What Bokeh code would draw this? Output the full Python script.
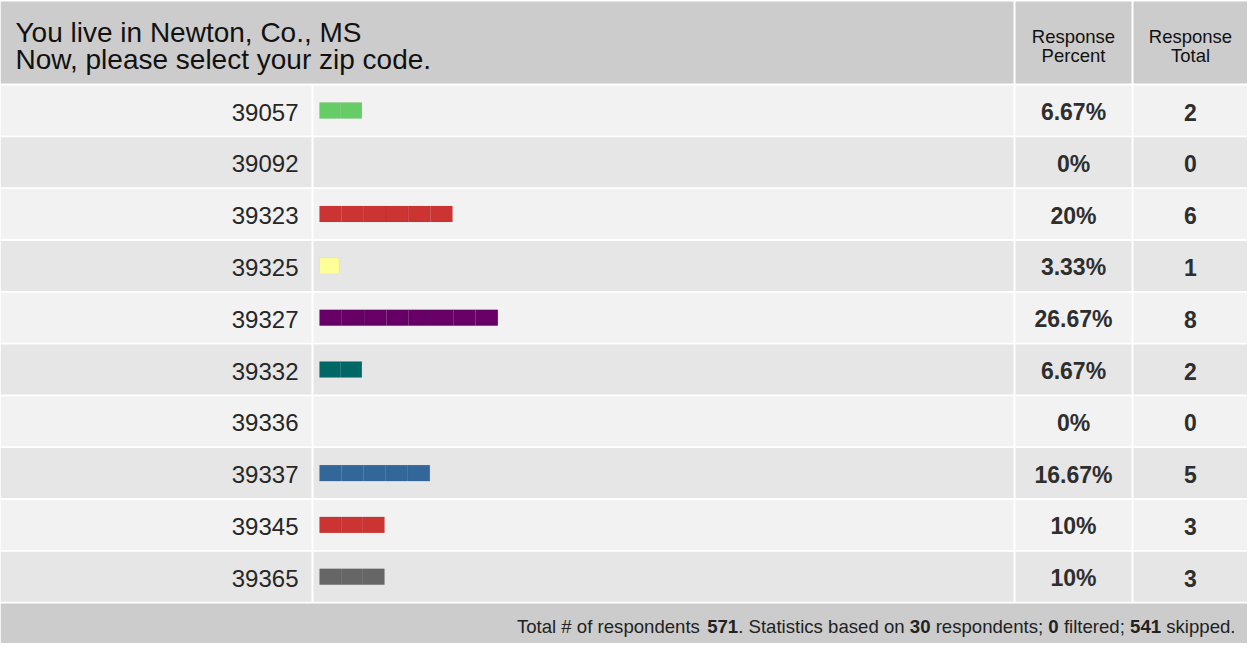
from bokeh.plotting import figure
from bokeh.models import Range1d
from bokeh.core.properties import value
from bokeh.embed import file_html
from bokeh.resources import INLINE

# ---- data ----
zips = ["39057", "39092", "39323", "39325", "39327", "39332", "39336", "39337", "39345", "39365"]
percents = [6.67, 0, 20, 3.33, 26.67, 6.67, 0, 16.67, 10, 10]
percent_labels = ["6.67%", "0%", "20%", "3.33%", "26.67%", "6.67%", "0%", "16.67%", "10%", "10%"]
totals = [2, 0, 6, 1, 8, 2, 0, 5, 3, 3]
bar_colors = ["#66cc66", "#cc3333", "#cc3333", "#ffff99", "#660066", "#006666", "#cc3333", "#336699", "#cc3333", "#666666"]
title_lines = ["You live in Newton, Co., MS", "Now, please select your zip code."]
col_headers = [["Response", "Percent"], ["Response", "Total"]]
footer_parts = ["Total # of respondents ", "571", ". Statistics based on ", "30", " respondents; ", "0",
                " filtered; ", "541", " skipped."]
footer_bold = [False, True, False, True, False, True, False, True, False]

# ---- layout (pixel-like coordinates) ----
W, H = 1247, 643
HEADER_TOP, HEADER_BOTTOM = 1, 83
ROW0_TOP, ROW_PITCH, ROW_H = 85, 51.8, 50
FOOTER_TOP = 603
LABEL_X0, LABEL_X1 = 0, 311
BAR_X0, BAR_X1 = 313, 1013
PCT_X0, PCT_X1 = 1015, 1131
TOT_X0, TOT_X1 = 1133, W
BAR_START = 319
PX_PER_PCT = 6.8
BAR_H = 16
FONT = "Liberation Sans"
FOOT_SIZE = 18.6
FOOT_RIGHT = 1235

# Arial / Liberation Sans advance widths (1/1000 em) for footer characters
ADV = {" ": 278, "#": 556, ".": 278, ";": 278, "T": 611, "S": 667,
       "a": 556, "b": 556, "c": 500, "d": 556, "e": 556, "f": 278, "i": 222, "k": 500,
       "l": 222, "n": 556, "o": 556, "p": 556, "r": 333, "s": 500, "t": 278}
for dch in "0123456789":
    ADV[dch] = 556


def text_w(s):
    return sum(ADV.get(ch, 556) for ch in s) / 1000.0 * FOOT_SIZE


p = figure(width=W, height=H, x_range=Range1d(0, W), y_range=Range1d(H, 0),
           output_backend="svg", toolbar_location=None, min_border=0,
           background_fill_color="white", border_fill_color="white")
p.axis.visible = False
p.grid.visible = False
p.outline_line_color = None

# header
p.quad(left=[LABEL_X0, PCT_X0, TOT_X0], right=[BAR_X1, PCT_X1, TOT_X1],
       top=[HEADER_TOP] * 3, bottom=[HEADER_BOTTOM] * 3, fill_color="#cccccc", line_color=None)

# rows
tops = [ROW0_TOP + ROW_PITCH * i for i in range(len(zips))]
bots = [t + ROW_H for t in tops]
mids = [t + ROW_H / 2 for t in tops]
row_fill = ["#f2f2f2" if i % 2 == 0 else "#e6e6e6" for i in range(len(zips))]
for x0, x1 in [(LABEL_X0, LABEL_X1), (BAR_X0, BAR_X1), (PCT_X0, PCT_X1), (TOT_X0, TOT_X1)]:
    p.quad(left=[x0] * len(zips), right=[x1] * len(zips), top=tops, bottom=bots,
           fill_color=row_fill, line_color=None)

# footer
p.quad(left=[0], right=[W], top=[FOOTER_TOP], bottom=[H], fill_color="#cccccc", line_color=None)

# bars, one segment per respondent
seg_l, seg_r, seg_t, seg_b, seg_c = [], [], [], [], []
for i, (pc, n) in enumerate(zip(percents, totals)):
    if n == 0:
        continue
    full = pc * PX_PER_PCT - 3
    for k in range(n):
        seg_l.append(BAR_START + full * k / n)
        seg_r.append(BAR_START + full * (k + 1) / n)
        seg_t.append(mids[i] - BAR_H / 2)
        seg_b.append(mids[i] + BAR_H / 2)
        seg_c.append(bar_colors[i])
p.quad(left=seg_l, right=seg_r, top=seg_t, bottom=seg_b, fill_color=seg_c,
       line_color="black", line_alpha=0.035, line_width=1)

# row texts
ty = [m + 1.5 for m in mids]
p.text(x=[LABEL_X1 - 13] * len(zips), y=ty, text=zips,
       text_font=value(FONT), text_font_size="24px", text_color="#262626",
       text_align="right", text_baseline="middle")
p.text(x=[(PCT_X0 + PCT_X1) / 2] * len(zips), y=ty, text=percent_labels,
       text_font=value(FONT), text_font_size="23px", text_color="#2e2e2e", text_font_style="bold",
       text_align="center", text_baseline="middle")
p.text(x=[(TOT_X0 + TOT_X1) / 2] * len(zips), y=ty, text=[str(t) for t in totals],
       text_font=value(FONT), text_font_size="23px", text_color="#2e2e2e", text_font_style="bold",
       text_align="center", text_baseline="middle")

# header texts
p.text(x=[15, 15], y=[32, 59], text=title_lines, text_font=value(FONT), text_font_size="28px",
       text_color="#111111", text_align="left", text_baseline="middle")
for (x0, x1), lines in zip([(PCT_X0, PCT_X1), (TOT_X0, TOT_X1)], col_headers):
    p.text(x=[(x0 + x1) / 2] * 2, y=[36, 55], text=lines, text_font=value(FONT),
           text_font_size="18.5px", text_color="#111111", text_align="center", text_baseline="middle")

# footer text (segments with mixed weight), right-aligned chain
total_w = sum(text_w(s) for s in footer_parts)
xcur = FOOT_RIGHT - total_w
for t, b in zip(footer_parts, footer_bold):
    lead = len(t) - len(t.lstrip(" "))
    xs = xcur + text_w(" " * lead)
    p.text(x=[xs], y=[626], text=[t.strip(" ")], text_font=value(FONT),
           text_font_size=f"{FOOT_SIZE}px",
           text_color="#222222", text_font_style="bold" if b else "normal",
           text_align="left", text_baseline="middle")
    xcur += text_w(t)

open("out.html", "w").write(file_html(p, INLINE))
